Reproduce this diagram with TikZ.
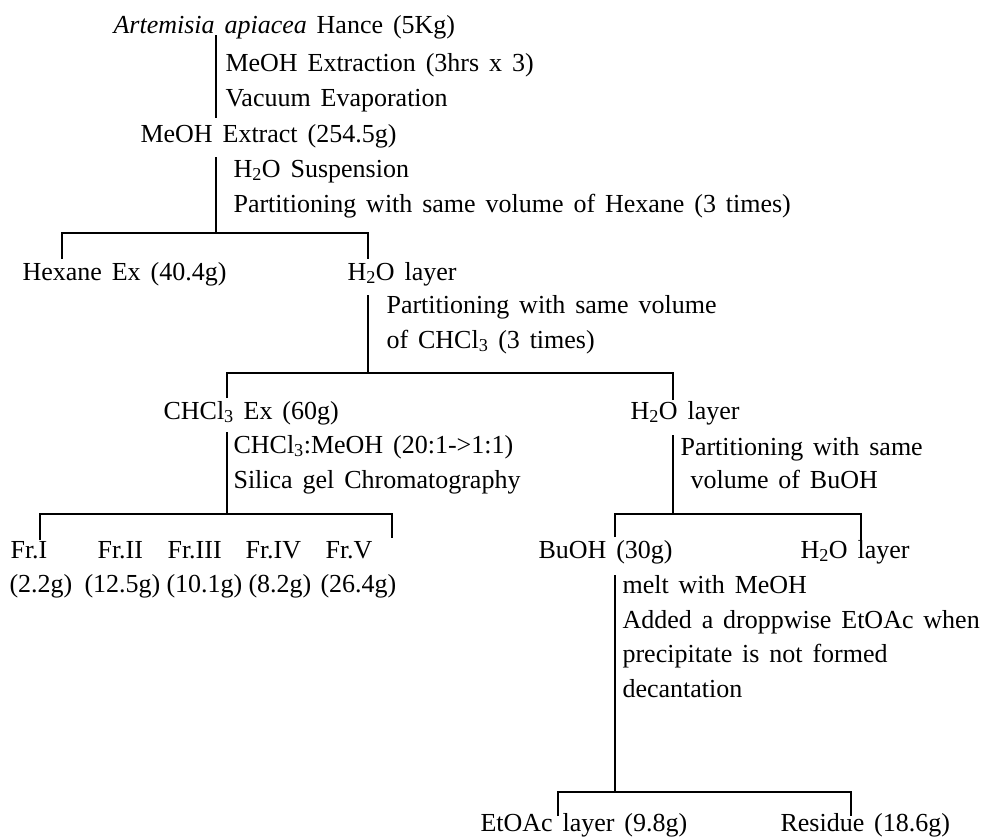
\documentclass[tikz,border=0pt]{standalone}
\usepackage{fontspec}
\setmainfont{Liberation Serif}
\usepackage{tikz}
\newcommand{\flowfont}{\fontsize{26}{34}\selectfont\spaceskip 0.38em plus 0.1em\relax}

\begin{document}
\begin{tikzpicture}[x=1pt, y=-1pt, line width=1.1pt,
            txt/.style = {anchor=base west,
                        inner sep=0pt,
                        font=\flowfont}]
            \useasboundingbox (0,0) rectangle (988,839);
            % Starting material
            \node[txt] (src) at (113,33) {\textit{Artemisia apiacea} Hance (5Kg)};
            \node[txt] (ex1) at (225,71) {MeOH Extraction (3hrs x 3)};
            \node[txt] (ex2) at (225,106) {Vacuum Evaporation};
            \node[txt] (meoh) at (140,142) {MeOH Extract (254.5g)};
            \coordinate (st1) at (216,35);
            \coordinate (en1) at (216,118);
            \draw (st1) -- (en1);
            % Hexane partition
            \node[txt] (sus) at (233,177) {H\textsubscript{2}O Suspension};
            \node[txt] (hpart) at (233,212) {Partitioning with same volume of Hexane (3 times)};
            \node[txt] (hex) at (22,280) {Hexane Ex (40.4g)};
            \node[txt] (wat1) at (347,280) {H\textsubscript{2}O layer};
            \coordinate (st2) at (216,157);
            \coordinate (jn1) at (216,233);
            \coordinate (hexT) at (62,259);
            \coordinate (wat1T) at (368,259);
            \draw (st2) -- (jn1);
            \draw (hexT) |- (jn1) -| (wat1T);
            % Chloroform partition
            \node[txt] (cpa) at (386,313) {Partitioning with same volume};
            \node[txt] (cpb) at (386,348) {of CHCl\textsubscript{3} (3 times)};
            \node[txt] (chl) at (163,419) {CHCl\textsubscript{3} Ex (60g)};
            \node[txt] (wat2) at (630,419) {H\textsubscript{2}O layer};
            \coordinate (st3) at (368,295);
            \coordinate (jn2) at (368,373);
            \coordinate (chlT) at (227,398);
            \coordinate (wat2T) at (673,400);
            \draw (st3) -- (jn2);
            \draw (chlT) |- (jn2) -| (wat2T);
            % Column chromatography
            \node[txt] (col1) at (233,453) {CHCl\textsubscript{3}:MeOH (20:1->1:1)};
            \node[txt] (col2) at (233,488) {Silica gel Chromatography};
            \coordinate (st4) at (227,432);
            \coordinate (jn3) at (227,514);
            \coordinate (frAT) at (40,540);
            \coordinate (frET) at (392,538);
            \draw (st4) -- (jn3);
            \draw (frAT) |- (jn3) -| (frET);
            % Fractions
            \node[txt] (frA) at (10,558) {Fr.I};
            \node[txt] (frB) at (97,558) {Fr.II};
            \node[txt] (frC) at (167,558) {Fr.III};
            \node[txt] (frD) at (245,558) {Fr.IV};
            \node[txt] (frE) at (325,558) {Fr.V};
            \node[txt] (wA) at (9,592) {(2.2g)};
            \node[txt] (wB) at (84,592) {(12.5g)};
            \node[txt] (wC) at (166,592) {(10.1g)};
            \node[txt] (wD) at (248,592) {(8.2g)};
            \node[txt] (wE) at (320,592) {(26.4g)};
            % Butanol partition
            \node[txt] (bpa) at (680,455) {Partitioning with same};
            \node[txt] (bpb) at (690,488) {volume of BuOH};
            \node[txt] (buoh) at (538,558) {BuOH (30g)};
            \node[txt] (wat3) at (800,558) {H\textsubscript{2}O layer};
            \coordinate (st5) at (673,435);
            \coordinate (jn4) at (673,514);
            \coordinate (buT) at (615,537);
            \coordinate (wat3T) at (861,540);
            \draw (st5) -- (jn4);
            \draw (buT) |- (jn4) -| (wat3T);
            % Precipitation
            \node[txt] (mA) at (622,593) {melt with MeOH};
            \node[txt] (mB) at (622,628) {Added a droppwise EtOAc when};
            \node[txt] (mC) at (622,662) {precipitate is not formed};
            \node[txt] (mD) at (622,697) {decantation};
            \node[txt] (eto) at (480,831) {EtOAc layer (9.8g)};
            \node[txt] (res) at (780,831) {Residue (18.6g)};
            \coordinate (st6) at (615,575);
            \coordinate (jn5) at (615,792);
            \coordinate (etoT) at (558,816);
            \coordinate (resT) at (851,816);
            \draw (st6) -- (jn5);
            \draw (etoT) |- (jn5) -| (resT);
        \end{tikzpicture}
\end{document}
